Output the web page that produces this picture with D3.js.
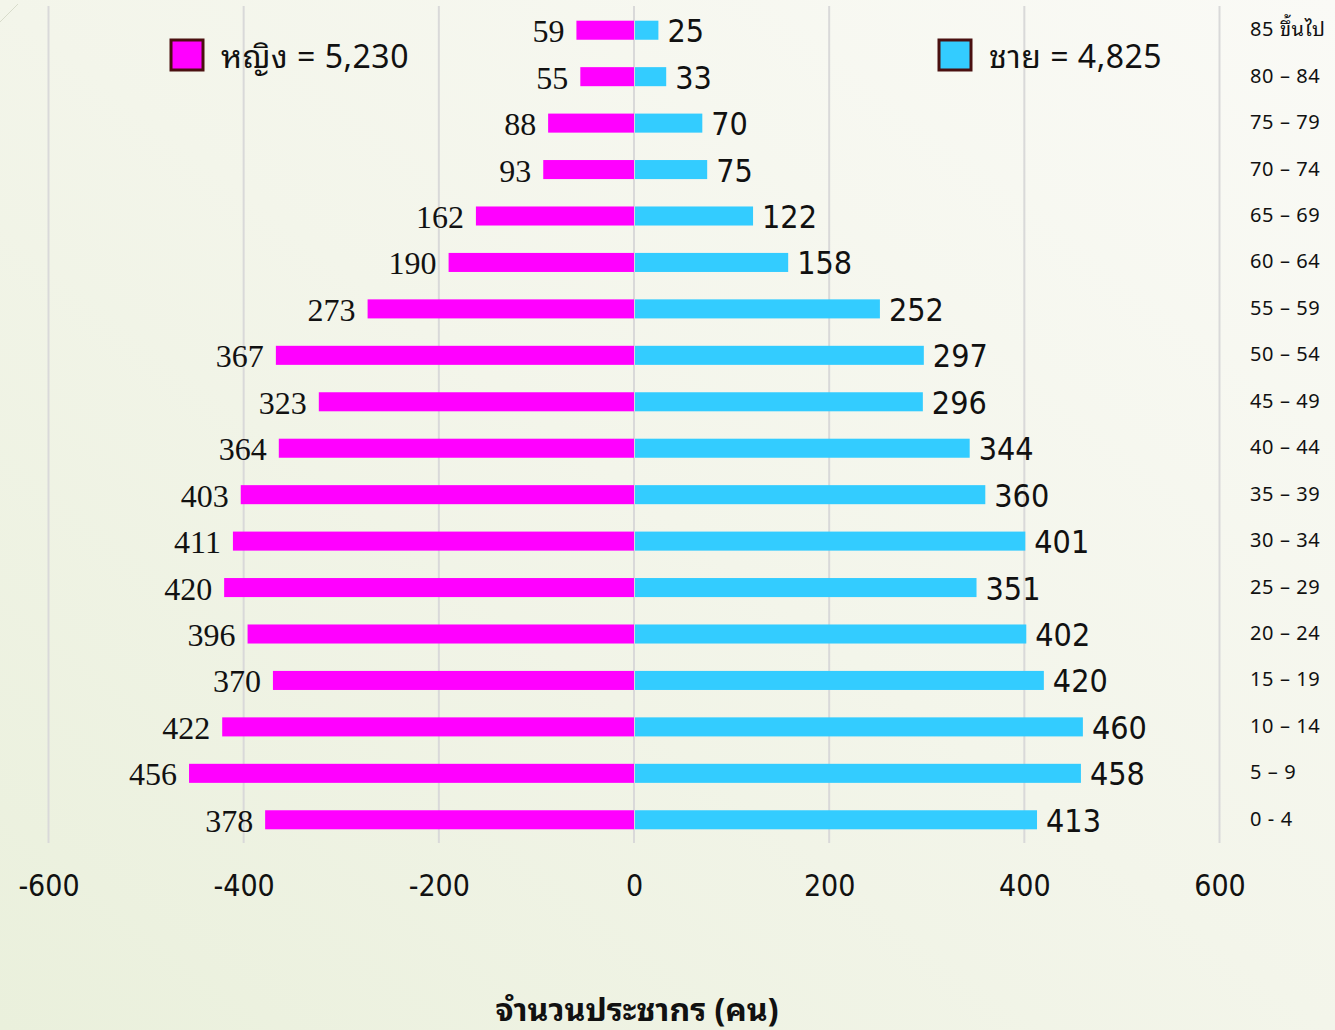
<!DOCTYPE html>
<html><head><meta charset="utf-8">
<script src="https://cdn.jsdelivr.net/npm/d3@7/dist/d3.min.js"></script>
<style>
html,body{margin:0;padding:0;}
svg{display:block;}
</style></head>
<body>
<svg id="c" width="1335" height="1030"></svg>
<script>
const ageGroups = ["85 ขึ้นไป","80 – 84","75 – 79","70 – 74","65 – 69","60 – 64","55 – 59","50 – 54","45 – 49","40 – 44","35 – 39","30 – 34","25 – 29","20 – 24","15 – 19","10 – 14","5 – 9","0 - 4"];
const female = [59,55,88,93,162,190,273,367,323,364,403,411,420,396,370,422,456,378];
const male   = [25,33,70,75,122,158,252,297,296,344,360,401,351,402,420,460,458,413];
const xTicks = [-600,-400,-200,0,200,400,600];
const legendFemale = "หญิง = 5,230";
const legendMale = "ชาย = 4,825";
const axisTitle = "จำนวนประชากร (คน)";

const svg = d3.select("#c");
const defs = svg.append("defs");
const g = defs.append("linearGradient").attr("id","bg").attr("x1","0").attr("y1","1").attr("x2","1").attr("y2","0");
g.append("stop").attr("offset","0").attr("stop-color","#eaf0dc");
g.append("stop").attr("offset","0.5").attr("stop-color","#f3f5ea");
g.append("stop").attr("offset","1").attr("stop-color","#fafaf6");
svg.append("rect").attr("width",1335).attr("height",1030).attr("fill","url(#bg)");
svg.append("line").attr("x1",0).attr("y1",22).attr("x2",18).attr("y2",4).attr("stroke","#d8dccb").attr("stroke-width",1);

const x = d3.scaleLinear().domain([-600,600]).range([48.5,1219.5]);
const y = d3.scaleBand().domain(ageGroups).range([7,843]).paddingInner(0.59).paddingOuter(0.295);

const narrow = "'Liberation Sans Narrow','Arial Narrow','DejaVu Sans Condensed','Liberation Sans',sans-serif";
const thai = "'Noto Sans Thai Looped','Loma','Tahoma','Noto Sans','Noto Sans Thai',sans-serif";

// gridlines
svg.append("g").selectAll("line").data(xTicks).join("line")
  .attr("x1",d=>x(d)).attr("x2",d=>x(d)).attr("y1",6).attr("y2",843)
  .attr("stroke","#d9d9d9").attr("stroke-width",2);

// axis tick labels
const ax = svg.append("g").attr("transform","translate(0,885)")
  .call(d3.axisBottom(x).tickValues(xTicks).tickSize(0).tickPadding(0).tickFormat(d=>String(d)));
ax.select(".domain").remove();
ax.selectAll("text").attr("font-family",narrow).attr("font-weight",300)
  .attr("font-size",30).attr("fill","#111").attr("dy","0.35em").attr("y",0);

const rows = ageGroups.map((a,i)=>({age:a,f:female[i],m:male[i]}));

// bars
svg.append("g").selectAll("rect").data(rows).join("rect")
  .attr("x",d=>x(-d.f)).attr("width",d=>x(0)-x(-d.f))
  .attr("y",d=>y(d.age)).attr("height",y.bandwidth()).attr("fill","#ff00ff");
svg.append("g").selectAll("rect").data(rows).join("rect")
  .attr("x",x(0)+1).attr("width",d=>x(d.m)-x(0)-1)
  .attr("y",d=>y(d.age)).attr("height",y.bandwidth()).attr("fill","#33ccff");

// value labels
svg.append("g").selectAll("text").data(rows).join("text")
  .attr("x",d=>x(-d.f)-12).attr("y",d=>y(d.age)+y.bandwidth()/2+1)
  .attr("text-anchor","end").attr("dominant-baseline","central")
  .attr("font-family","'Liberation Serif','Times New Roman',serif").attr("font-size",32).attr("fill","#111")
  .text(d=>d.f);
svg.append("g").selectAll("text").data(rows).join("text")
  .attr("x",d=>x(d.m)+9).attr("y",d=>y(d.age)+y.bandwidth()/2+1)
  .attr("text-anchor","start").attr("dominant-baseline","central")
  .attr("font-family",narrow).attr("font-weight",300).attr("font-size",32).attr("fill","#111")
  .text(d=>d.m);

// age labels
svg.append("g").selectAll("text").data(rows).join("text")
  .attr("x",1250).attr("y",d=>y(d.age)+y.bandwidth()/2-3)
  .attr("dominant-baseline","central")
  .attr("font-family",thai).attr("font-size",20)
  .attr("letter-spacing",0.6).attr("fill","#111")
  .text(d=>d.age);

// legend
const leg = [{t:legendFemale,c:"#ff00ff",x:171},{t:legendMale,c:"#33ccff",x:939}];
const lg = svg.append("g").selectAll("g").data(leg).join("g").attr("transform",d=>`translate(${d.x},40)`);
lg.append("rect").attr("width",32).attr("height",30).attr("fill",d=>d.c).attr("stroke","#4a1010").attr("stroke-width",3);
lg.append("text").attr("x",50).attr("y",13).attr("dominant-baseline","central")
  .attr("font-family",thai).attr("font-size",32).attr("letter-spacing",0.5).attr("fill","#111")
  .text(d=>d.t);

// axis title
svg.append("text").attr("x",637).attr("y",1006).attr("text-anchor","middle").attr("dominant-baseline","central")
  .attr("font-family",thai).attr("font-size",32).attr("font-weight","bold").attr("fill","#111")
  .text(axisTitle);
</script>
</body></html>
